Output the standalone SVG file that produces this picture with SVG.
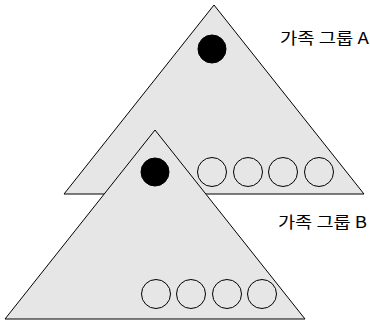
<svg xmlns="http://www.w3.org/2000/svg" width="370" height="321" viewBox="0 0 370 321">
<style>
.tri{fill:#e6e6e6;stroke:#000;stroke-width:1}
.leader{fill:#000;stroke:#000}
.member{fill:none;stroke:#000;stroke-width:1}
.lbl{font-family:"Noto Sans CJK KR","Noto Sans",sans-serif;font-size:16px;fill:#000}
</style>
<rect width="370" height="321" fill="#fff"/>
<g id="groupA">
<polygon class="tri" points="214,5 364,194 64,194"/>
<circle class="leader" cx="212" cy="49" r="14"/>
<circle class="member" cx="212" cy="172" r="14.5"/>
<circle class="member" cx="248" cy="172" r="14.5"/>
<circle class="member" cx="283" cy="172" r="14.5"/>
<circle class="member" cx="319" cy="172" r="14.5"/>
<text class="lbl" x="280" y="44" textLength="89" lengthAdjust="spacingAndGlyphs">가족 그룹 A</text>
</g>
<g id="groupB">
<polygon class="tri" points="155,130 305,319 5,319"/>
<circle class="leader" cx="155" cy="172" r="14"/>
<circle class="member" cx="156" cy="294" r="14.5"/>
<circle class="member" cx="191" cy="294" r="14.5"/>
<circle class="member" cx="227" cy="294" r="14.5"/>
<circle class="member" cx="262" cy="294" r="14.5"/>
<text class="lbl" x="278" y="228" textLength="89" lengthAdjust="spacingAndGlyphs">가족 그룹 B</text>
</g>
<g id="connectors"/>
</svg>
